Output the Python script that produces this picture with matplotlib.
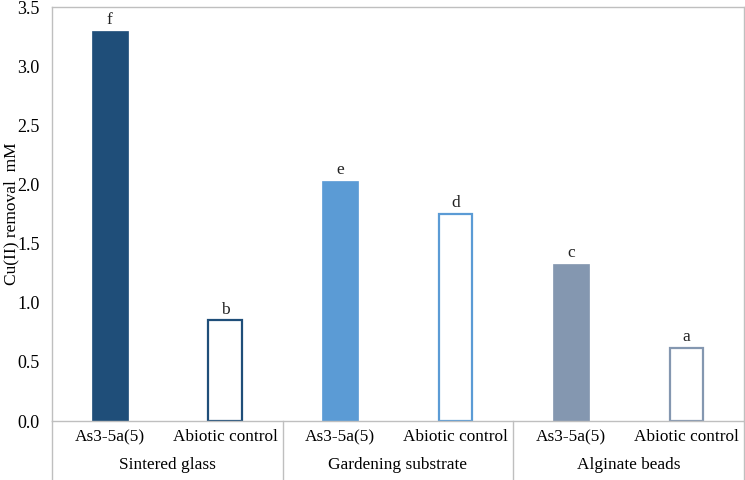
import matplotlib
matplotlib.use("Agg")
import matplotlib.pyplot as plt
import matplotlib.transforms as mtransforms
import numpy as np

plt.rcParams['font.family'] = ['Liberation Serif', 'DejaVu Serif']

groups = ["Sintered glass", "Gardening substrate", "Alginate beads"]
treatments = ["As3-5a(5)", "Abiotic control"]
values = [3.30, 0.85, 2.03, 1.75, 1.33, 0.62]
letters = ["f", "b", "e", "d", "c", "a"]
group_colors = ["#1F4E79", "#5B9BD5", "#8497B0"]
yticks = [0.0, 0.5, 1.0, 1.5, 2.0, 2.5, 3.0, 3.5]

fig = plt.figure(figsize=(7.45, 4.80), dpi=100)
ax = fig.add_axes([52/745, 1 - 421/480, (744 - 52)/745, (421 - 7)/480])

x = np.arange(len(values))
grid = "#BFBFBF"
for i, (xi, v) in enumerate(zip(x, values)):
    c = group_colors[i // 2]
    if i % 2 == 0:
        ax.bar(xi, v, width=0.31, color=c, edgecolor=c, linewidth=0.5)
    else:
        ax.bar(xi, v, width=0.29, facecolor="white", edgecolor=c, linewidth=1.6)
    ax.text(xi, v + 0.025, letters[i], ha="center", va="bottom", fontsize=12.5, color="#222222")

ax.set_xlim(-0.5, len(values) - 0.5)
ax.set_ylim(0, 3.5)
ax.set_yticks(yticks)
ax.set_yticklabels([f"{t:.1f}" for t in yticks], fontsize=13)
ax.tick_params(axis="y", length=0, pad=9)
ax.set_xticks([])
for s in ax.spines.values():
    s.set_color(grid)
    s.set_linewidth(1.0)

ax.set_ylabel("Cu(II) removal  mM", fontsize=12.5)
ax.yaxis.set_label_coords((19 - 52) / 692, 0.5)

trans = mtransforms.blended_transform_factory(ax.transData, ax.transAxes)
# extended divider lines below axis
for xd in [-0.5, 1.5, 3.5, 5.5]:
    ax.plot([xd, xd], [0, -59/414], transform=trans, color=grid, lw=1.0, clip_on=False)

for i, xi in enumerate(x):
    ax.text(xi, -16/414, treatments[i % 2], transform=trans, ha="center", va="center", fontsize=12.4)
for g, name in enumerate(groups):
    ax.text(2*g + 0.5, -44/414, name, transform=trans, ha="center", va="center", fontsize=12.4)

fig.savefig("out.png", dpi=100)
